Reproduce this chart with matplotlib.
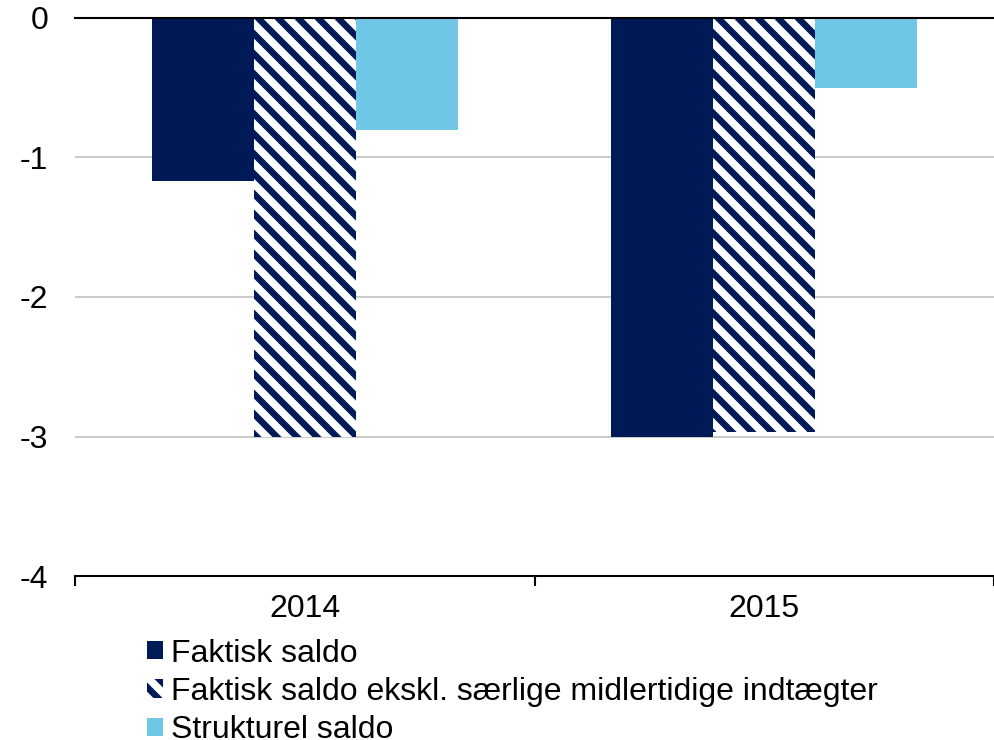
import matplotlib.pyplot as plt
import numpy as np

plt.rcParams['font.family'] = ['Liberation Sans', 'DejaVu Sans']
plt.rcParams['hatch.linewidth'] = 3.9
plt.rcParams['hatch.color'] = '#001A57'

years = ['2014', '2015']
faktisk = [-1.17, -3.0]
faktisk_ekskl = [-3.0, -2.97]
strukturel = [-0.8, -0.5]
labels = ['Faktisk saldo',
          'Faktisk saldo ekskl. særlige midlertidige indtægter',
          'Strukturel saldo']

dark = '#001A57'
light = '#6FC6E5'

fig = plt.figure(figsize=(994 / 120, 740 / 120), dpi=120)
ax = fig.add_axes([0.0755, 0.2216, 1 - 0.0755, 0.9757 - 0.2216])

x = np.arange(len(years))
w = 0.222
b1 = ax.bar(x - w, faktisk, w, color=dark, label=labels[0])
b2 = ax.bar(x, faktisk_ekskl, w, color='white', hatch='\\\\', edgecolor=dark,
            linewidth=0, label=labels[1])
b3 = ax.bar(x + w, strukturel, w, color=light, label=labels[2])

ax.set_xlim(-0.5, 1.5)
ax.set_ylim(-4, 0)
ax.set_yticks([0, -1, -2, -3, -4])
ax.set_yticklabels(['0', '-1', '-2', '-3', '-4'])
ax.yaxis.grid(True, color='#BBBBBB', linewidth=0.9)
ax.set_axisbelow(True)

for s in ['left', 'right']:
    ax.spines[s].set_visible(False)
ax.spines['top'].set_color('black')
ax.spines['top'].set_linewidth(1.25)
ax.spines['bottom'].set_color('black')
ax.spines['bottom'].set_linewidth(1.25)

ax.tick_params(axis='y', length=0, labelsize=19.2, pad=16)
ax.set_xticks([-0.5, 0.5, 1.5])
ax.set_xticklabels([])
ax.set_xticks(x, minor=True)
ax.set_xticklabels(years, minor=True)
ax.tick_params(axis='x', which='major', length=5.8, width=1.25, direction='out')
ax.tick_params(axis='x', which='minor', length=0, labelsize=19.2, pad=11)

fig.legend(handles=[b1, b2, b3], loc='upper left', bbox_to_anchor=(0.148, 0.137),
           frameon=False, fontsize=19.2, handlelength=0.5, handleheight=0.5,
           handletextpad=0.25, labelspacing=0.26, borderaxespad=0,
           borderpad=0)

fig.savefig('out.png', dpi=120)
